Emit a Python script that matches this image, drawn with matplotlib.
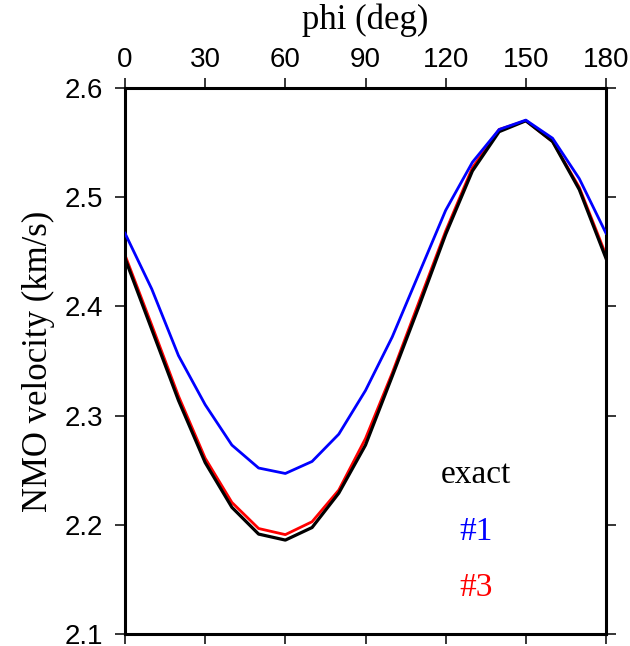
import matplotlib.pyplot as plt
import numpy as np

# azimuth (deg) and NMO velocities (km/s)
phi = np.arange(0, 181, 10)
v_exact = [2.444, 2.379, 2.314, 2.257, 2.216, 2.1915, 2.186, 2.1975, 2.229, 2.273,
           2.336, 2.400, 2.466, 2.524, 2.560, 2.570, 2.551, 2.507, 2.444]
v_1 = [2.467, 2.416, 2.355, 2.310, 2.273, 2.252, 2.247, 2.258, 2.283, 2.323,
       2.372, 2.430, 2.488, 2.532, 2.562, 2.5706, 2.554, 2.517, 2.467]
v_3 = [2.447, 2.383, 2.318, 2.261, 2.2205, 2.1966, 2.191, 2.2028, 2.2318, 2.279,
       2.339, 2.404, 2.469, 2.527, 2.562, 2.570, 2.551, 2.509, 2.447]

serif = 'Liberation Serif'
sans = 'Liberation Sans'

fig = plt.figure(figsize=(6.3, 6.46), dpi=100)
ax = fig.add_axes([125 / 630, 1 - 634 / 646, 481 / 630, 546 / 646])

ax.plot(phi, v_3, color='#ff0000', lw=2.0, zorder=2)
ax.plot(phi, v_exact, color='black', lw=2.3, zorder=3)
ax.plot(phi, v_1, color='#0000ff', lw=2.0, zorder=4)

ax.set_xlim(0, 180)
ax.set_ylim(2.1, 2.6)
ax.set_xticks(np.arange(0, 181, 30))
ax.set_yticks([2.1, 2.2, 2.3, 2.4, 2.5, 2.6])
ax.set_yticklabels(['2.1', '2.2', '2.3', '2.4', '2.5', '2.6'])

ax.tick_params(axis='both', direction='out', length=7, width=1.1,
               labelsize=20, top=True, right=True, bottom=True, left=True)
ax.tick_params(axis='x', labeltop=True, labelbottom=False, pad=4)
ax.tick_params(axis='y', pad=9)
for lab in ax.get_xticklabels() + ax.get_yticklabels():
    lab.set_family(sans)

for sp in ax.spines.values():
    sp.set_linewidth(2.2)

ax.xaxis.set_label_position('top')
ax.set_xlabel('phi (deg)', family=serif, fontsize=25, labelpad=13)
ax.set_ylabel('NMO velocity (km/s)', family=serif, fontsize=25, labelpad=7)

ax.text(0.73, 0.276, 'exact', transform=ax.transAxes, ha='center', va='baseline',
        family=serif, fontsize=24, color='black')
ax.text(0.73, 0.173, '#1', transform=ax.transAxes, ha='center', va='baseline',
        family=serif, fontsize=24, color='#0000ff')
ax.text(0.73, 0.0697, '#3', transform=ax.transAxes, ha='center', va='baseline',
        family=serif, fontsize=24, color='#ff0000')

fig.savefig('out.png', dpi=100)
